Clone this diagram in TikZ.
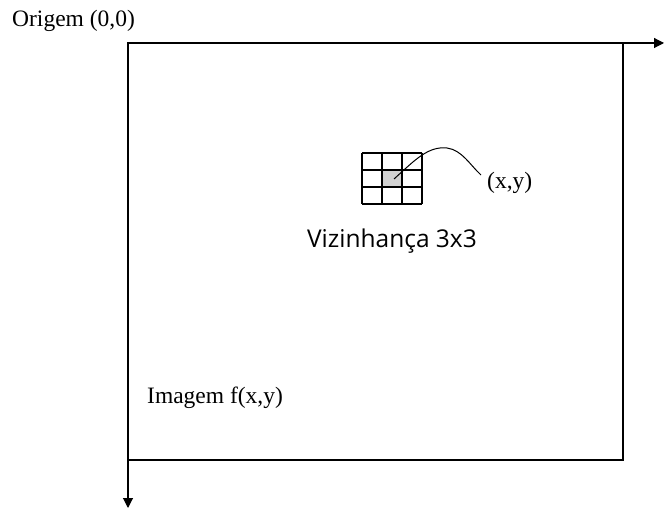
\documentclass[tikz,border=0pt]{standalone}
\usepackage{fontspec}
\setmainfont{Liberation Serif}
\newfontfamily\vizfont{Open Sans}
\usetikzlibrary{arrows.meta}
\begin{document}
\begin{tikzpicture}[x=1pt,y=-1pt,
  axis/.style={line width=1.1pt,-{Triangle[length=10pt,width=10pt]}},
  frame/.style={line width=1.6pt},
  serif/.style={font=\fontsize{23.5}{26}\selectfont,inner sep=0pt},
  gridline/.style={line width=1.5pt}]
\useasboundingbox (0,0) rectangle (664,510);
% axes
\coordinate (O) at (128,43);
\coordinate (XE) at (664,43);
\coordinate (YE) at (128,508);
\draw[axis] (O) -- (XE);
\draw[axis] (O) -- (YE);
% image frame
\draw[frame] (O) rectangle (623,460);
% labels
\node[serif,anchor=west] (orig) at (12,21) {Origem (0,0)};
\node[serif,anchor=west] (img) at (147,398) {Imagem f(x,y)};
% 3x3 neighbourhood
\fill[gray!35] (382,170) rectangle (402,187);
\foreach \xx in {362,382,402,422} \draw[gridline] (\xx,153) -- (\xx,204);
\foreach \yy in {153,170,187,204} \draw[gridline] (362,\yy) -- (422,\yy);
\coordinate (c) at (394,179);
\node[serif,anchor=west] (xy) at (487,183) {(x,y)};
\draw[line width=1pt] (c) .. controls (415,160) and (428,146) .. (447,148)
   .. controls (462,150) and (470,165) .. (481,175);
\node[font=\vizfont\fontsize{24.5}{28}\selectfont,inner sep=0pt] (viz) at (392,241) {Vizinhança 3x3};
\end{tikzpicture}
\end{document}
